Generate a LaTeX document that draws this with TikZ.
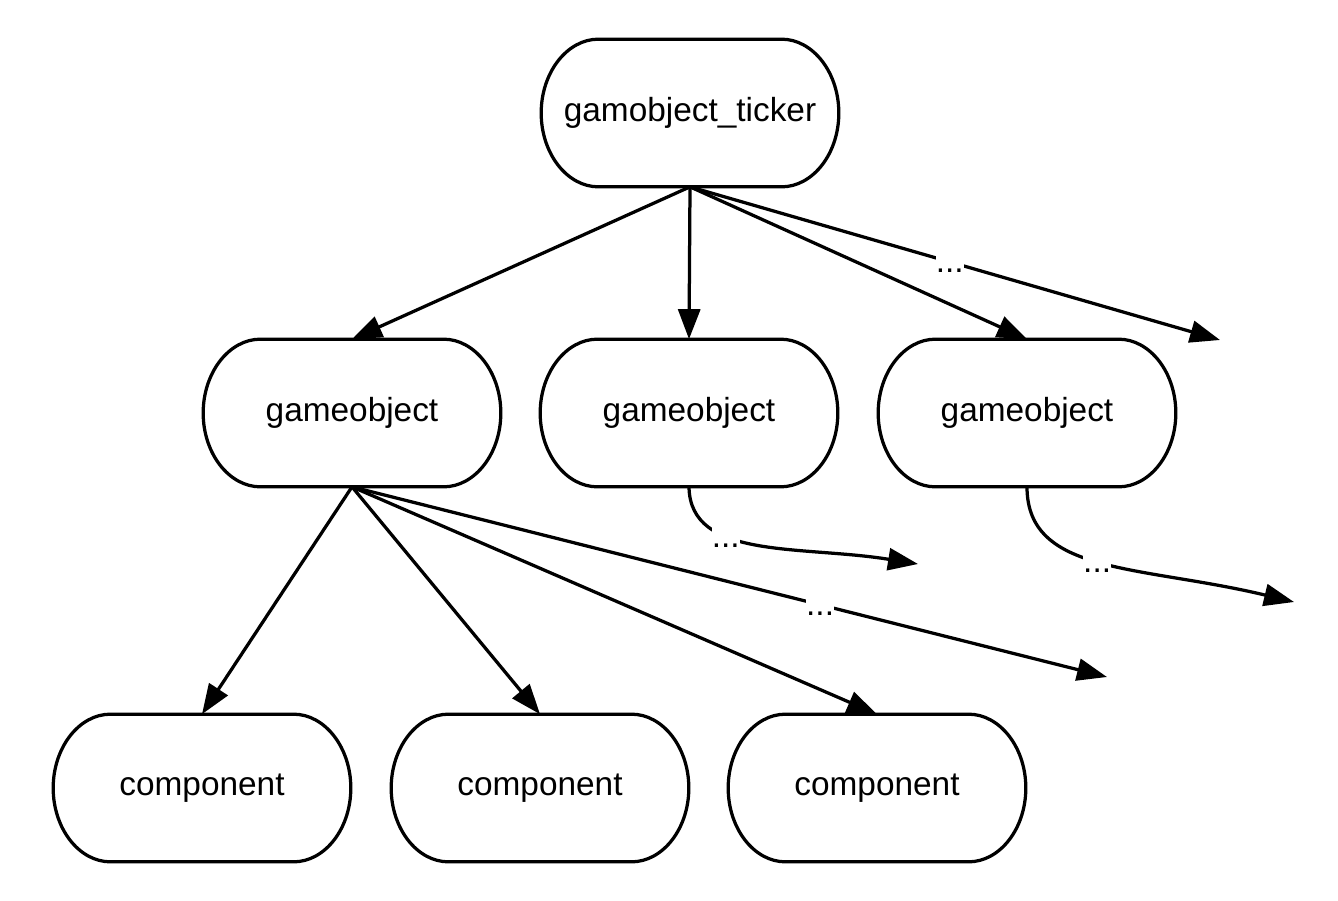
\documentclass[tikz,border=0pt]{standalone}
\usepackage{fontspec}
\setmainfont{Liberation Sans}
\usetikzlibrary{arrows.meta,calc}
\newcommand\stadium[1]{%
  \draw[outline] ($(#1.north)+(-1.83cm,0)$) -- ($(#1.north)+(1.83cm,0)$)
    .. controls +(0.63cm,0) and +(0,0.81cm) .. (#1.east)
    .. controls +(0,-0.81cm) and +(0.63cm,0) .. ($(#1.south)+(1.83cm,0)$)
    -- ($(#1.south)+(-1.83cm,0)$)
    .. controls +(-0.63cm,0) and +(0,-0.81cm) .. (#1.west)
    .. controls +(0,0.81cm) and +(-0.63cm,0) .. cycle;}
\begin{document}
\begin{tikzpicture}[x=0.02cm,y=-0.02cm,
  outline/.style={line width=0.065cm,line join=round},
  box/.style={minimum width=5.94cm,minimum height=2.94cm,inner sep=0pt,font=\fontsize{19}{23}\selectfont},
  conn/.style={line width=0.065cm,-{Triangle[length=0.6cm,width=0.44cm]}},
  dots/.style={fill=white,inner xsep=0pt,inner ysep=0pt,text height=0.42cm,text depth=0pt,font=\fontsize{19}{23}\selectfont}]
\useasboundingbox (0,0) rectangle (1338,900);
\node[box] (tick) at (690,113) {gamobject\_ticker};
\node[box] (go1) at (352,413) {gameobject};
\node[box] (go2) at (689,413) {gameobject};
\node[box] (go3) at (1027,413) {gameobject};
\node[box] (c1) at (202,788) {component};
\node[box] (c2) at (540,788) {component};
\node[box] (c3) at (877,788) {component};
\foreach \n in {tick,go1,go2,go3,c1,c2,c3} {\stadium{\n}}
\coordinate (e1) at (1220,340);
\coordinate (e2) at (1107,677);
\coordinate (e3) at (918,564);
\coordinate (e4) at (1294,602);
\draw[conn] (tick.south) -- (go1.north);
\draw[conn] (tick.south) -- (go2.north);
\draw[conn] (tick.south) -- (go3.north);
\draw[conn] (tick.south) -- node[dots,pos=0.49] {...} (e1);
\draw[conn] (go1.south) -- (c1.north);
\draw[conn] (go1.south) -- (c2.north);
\draw[conn] (go1.south) -- (c3.north);
\draw[conn] (go1.south) -- node[dots,pos=0.62] {...} (e2);
\draw[conn] (go2.south) .. controls (690,560) and (800,545) .. node[dots,pos=0.35] {...} (e3);
\draw[conn] (go3.south) .. controls (1027,575) and (1140,565) .. node[dots,pos=0.48] {...} (e4);
\end{tikzpicture}
\end{document}
